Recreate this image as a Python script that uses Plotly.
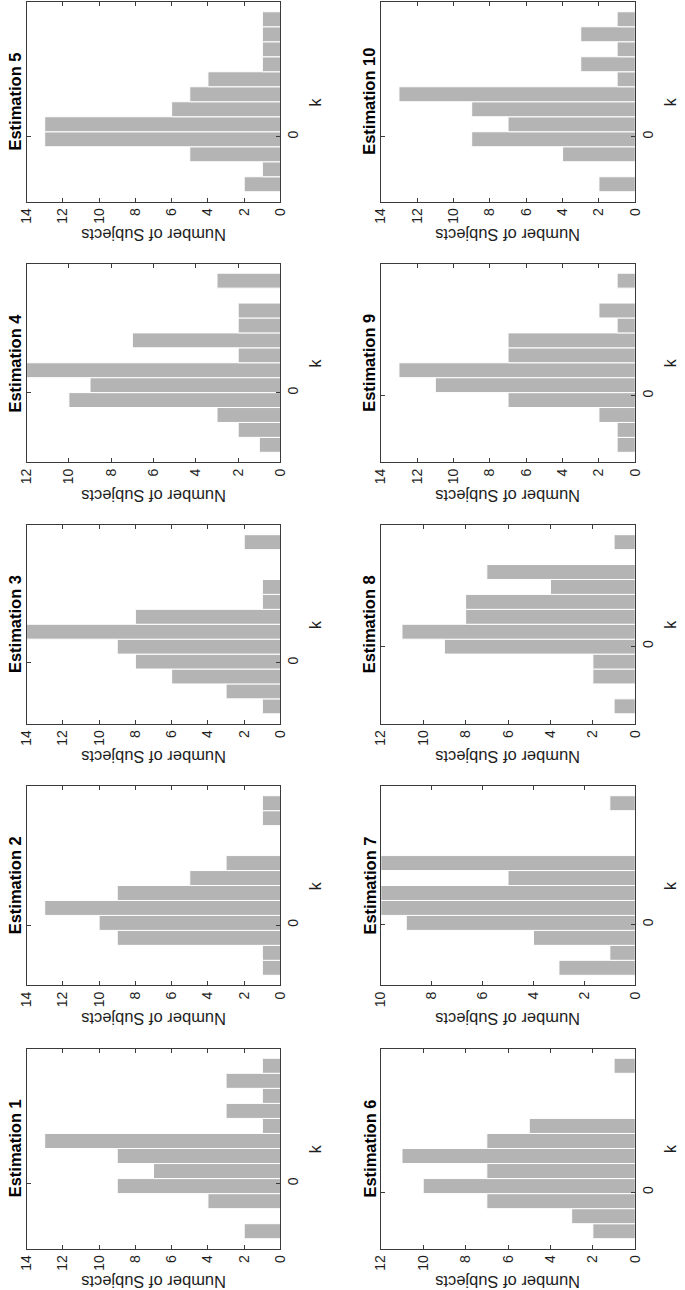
import plotly.graph_objects as go

# ---- data (counts per bin, in increasing k order) ----
est1 = [2, 0, 4, 9, 7, 9, 13, 1, 3, 1, 3, 1]
est2 = [1, 1, 9, 10, 13, 9, 5, 3, 0, 0, 1, 1]
est3 = [1, 3, 6, 8, 9, 14, 8, 1, 1, 0, 0, 2]
est4 = [1, 2, 3, 10, 9, 12, 2, 7, 2, 2, 0, 3]
est5 = [2, 1, 5, 13, 13, 6, 5, 4, 1, 1, 1, 1]
est6 = [2, 3, 7, 10, 7, 11, 7, 5, 0, 0, 0, 1]
est7 = [3, 1, 4, 9, 10, 10, 5, 10, 0, 0, 0, 1]
est8 = [1, 0, 2, 2, 9, 11, 8, 8, 4, 7, 0, 1]
est9 = [1, 1, 2, 7, 11, 13, 7, 7, 1, 2, 0, 1]
est10 = [2, 0, 4, 9, 7, 9, 13, 1, 3, 1, 3, 1]
series = [est1, est2, est3, est4, est5, est6, est7, est8, est9, est10]
titles = ["Estimation %d" % i for i in range(1, 11)]
# lower edge of the first bin (k units, bin width 1)
first_edge = [-3.67, -3.36, -3.42, -4.0, -3.67, -3.09, -3.4, -4.53, -3.8, -3.67]
count_max = [14, 14, 14, 12, 14, 12, 10, 12, 14, 14]
value_label = "Number of Subjects"
k_label = "k"

# ---- layout geometry (pixels) ----
W, H = 685, 1290
col_x = [(19, 279), (381.7, 642.3)]
row_y = [(2, 201.5), (263.5, 462), (525, 723.5), (786, 985), (1048.5, 1248.5)]
FONT = "Arial, Liberation Sans, Helvetica, sans-serif"
frame_col = "#3a3a3a"
text_col = "#1e1e1e"
bar_col = "#b4b4b4"

fig = go.Figure()
layout = dict(width=W, height=H, margin=dict(l=0, r=0, t=0, b=0),
              paper_bgcolor="white", plot_bgcolor="white", showlegend=False,
              bargap=0, font=dict(family=FONT, color=text_col))
annotations = []

for n in range(10):
    col = n // 5
    row = 4 - (n % 5)
    x0, x1 = col_x[col]
    y0, y1 = row_y[row]
    ax = "" if n == 0 else str(n + 1)
    lo = first_edge[n]
    ks = [lo + j + 0.5 for j in range(len(series[n]))]
    fig.add_trace(go.Bar(
        x=series[n], y=ks, width=[1] * len(ks), orientation="h",
        marker=dict(color=bar_col, line=dict(color="white", width=1)),
        xaxis="x" + ax, yaxis="y" + ax, hoverinfo="x+y"))
    layout["xaxis" + ax] = dict(
        domain=[x0 / W, x1 / W], anchor="y" + ax, range=[count_max[n], 0],
        tickvals=list(range(0, count_max[n] + 1, 2)), tickangle=-90,
        ticks="inside", ticklen=4, tickcolor=frame_col, mirror="allticks",
        showline=True, linecolor=frame_col, linewidth=1, showgrid=False,
        zeroline=False, side="bottom", tickfont=dict(size=14, color=text_col, family=FONT))
    layout["yaxis" + ax] = dict(
        domain=[1 - y1 / H, 1 - y0 / H], anchor="x" + ax,
        range=[lo - 0.65, lo + 12.65], tickvals=[0], ticktext=["0"],
        tickangle=-90, side="right", ticks="inside", ticklen=4,
        tickcolor=frame_col, mirror="allticks", showline=True,
        linecolor=frame_col, linewidth=1, showgrid=False, zeroline=False,
        tickfont=dict(size=14, color=text_col, family=FONT))
    cx = (x0 + x1) / 2
    cy = (y0 + y1) / 2
    annotations.append(dict(text="<b>%s</b>" % titles[n], x=(x0 - 12) / W, y=1 - cy / H,
                            xref="paper", yref="paper", xanchor="center", yanchor="middle",
                            textangle=-90, showarrow=False,
                            font=dict(size=16.5, color="black", family=FONT)))
    annotations.append(dict(text=value_label, x=cx / W, y=1 - (y1 + 34) / H,
                            xref="paper", yref="paper", xanchor="center", yanchor="middle",
                            textangle=180, showarrow=False,
                            font=dict(size=16.5, color=text_col, family=FONT)))
    annotations.append(dict(text=k_label, x=(x1 + 36) / W, y=1 - cy / H,
                            xref="paper", yref="paper", xanchor="center", yanchor="middle",
                            textangle=-90, showarrow=False,
                            font=dict(size=16, color=text_col, family=FONT)))

layout["annotations"] = annotations
fig.update_layout(**layout)
fig.write_html("out.html", config={"displayModeBar": False, "staticPlot": True},
               post_script="document.body.style.margin='0';document.body.style.overflow='hidden';")
